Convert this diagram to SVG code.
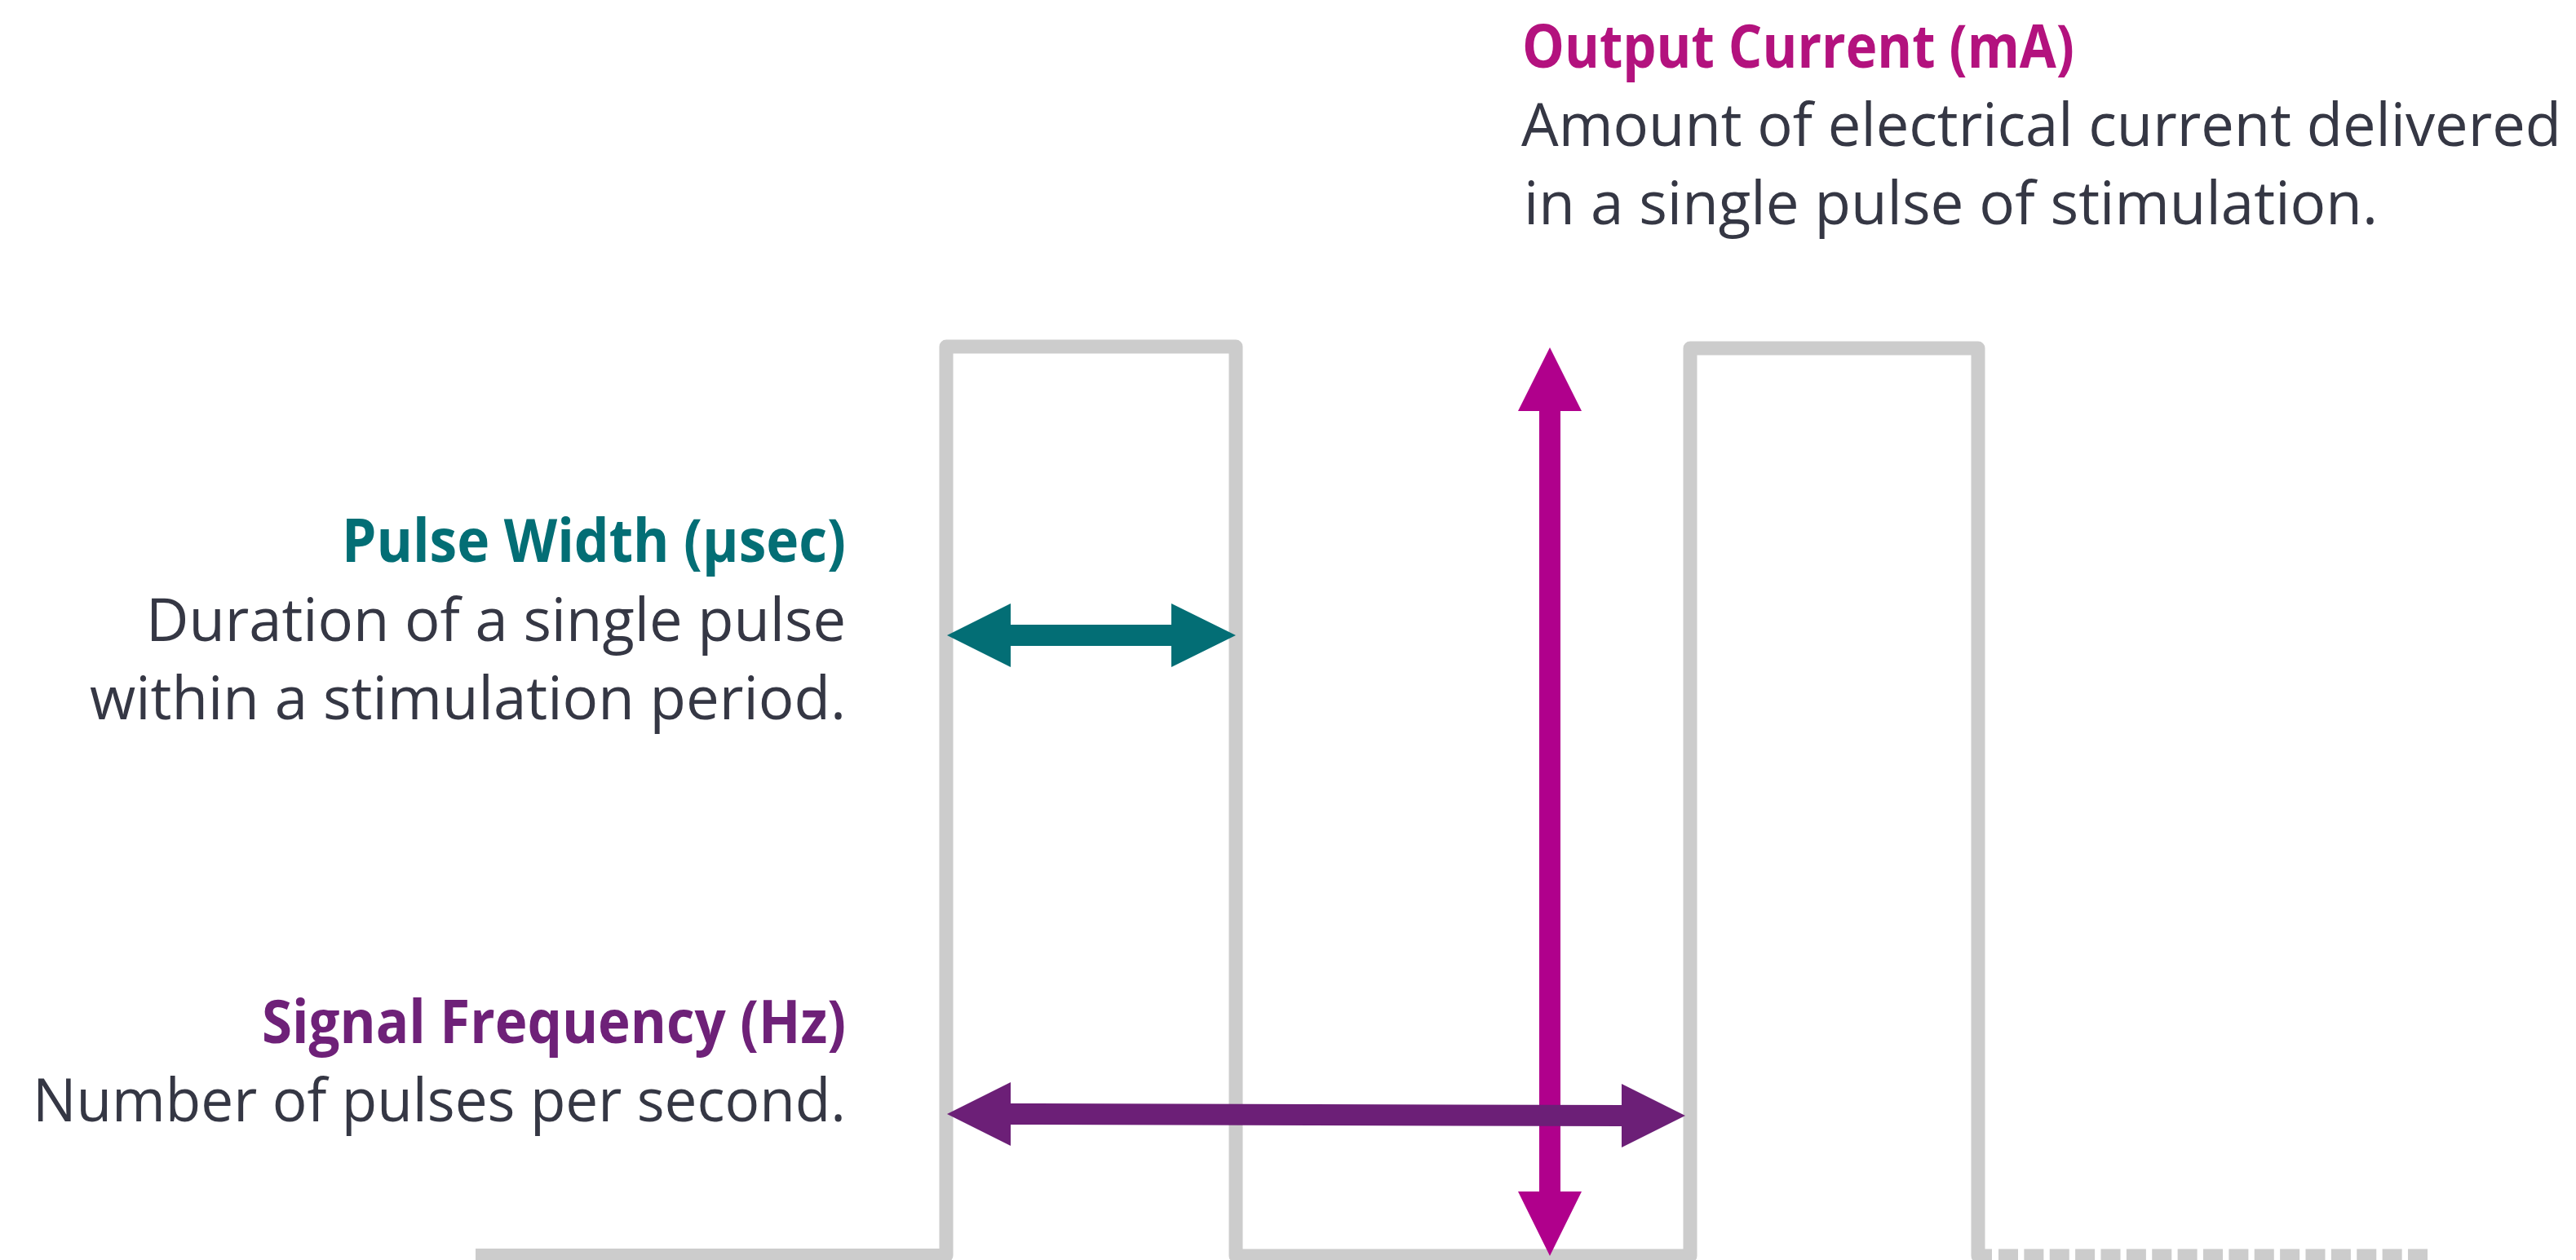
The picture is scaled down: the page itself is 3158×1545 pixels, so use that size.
<svg xmlns="http://www.w3.org/2000/svg" width="3158" height="1545" viewBox="0 0 3158 1545">
<style>
.wave{fill:none;stroke:#cccccc;stroke-width:17;stroke-linejoin:round}
.dash{fill:none;stroke:#cccccc;stroke-width:17;stroke-dasharray:24 7.375}
text{font-family:"Open Sans","Noto Sans","Liberation Sans",sans-serif;font-size:73px}
.h{font-weight:700}
.b{fill:#353744}
.teal{fill:#036e75}
.mag{fill:#b3127e}
.pur{fill:#6e2178}
.r{text-anchor:end}
</style>
<rect width="3158" height="1545" fill="#ffffff"/>
<g id="waveform">
<path class="wave" d="M583 1539.5 H1160 V425 H1515 V1540 H2072 V427 H2425 V1540 H2442"/>
<path class="dash" d="M2450 1540 H2976"/>
</g>
<g id="connectors">
<polygon id="output-current-arrow" fill="#b0008c" points="1900,426 1939,504 1913,504 1913,1461 1939,1461 1900,1540 1861,1461 1887,1461 1887,504 1861,504"/>
<polygon id="pulse-width-arrow" fill="#036e75" points="1161,779 1239,740 1239,766 1436,766 1436,740 1515,779 1436,818 1436,792 1239,792 1239,818"/>
<polygon id="frequency-arrow" fill="#6c1f77" points="1161,1366 1239,1327 1239,1353 1988,1355 1988,1329 2066,1368 1988,1407 1988,1381 1239,1379 1239,1405"/>
</g>
<g id="output-current-label">
<text class="h mag" x="1866" y="83" textLength="677" lengthAdjust="spacingAndGlyphs">Output Current (mA)</text>
<text class="b" x="1865" y="179" textLength="1275" lengthAdjust="spacingAndGlyphs">Amount of electrical current delivered</text>
<text class="b" x="1868" y="275" textLength="1047" lengthAdjust="spacingAndGlyphs">in a single pulse of stimulation.</text>
</g>
<g id="pulse-width-label">
<text class="h teal r" x="1037" y="689" textLength="618" lengthAdjust="spacingAndGlyphs">Pulse Width (µsec)</text>
<text class="b r" x="1037" y="786" textLength="858" lengthAdjust="spacingAndGlyphs">Duration of a single pulse</text>
<text class="b r" x="1037" y="882" textLength="927" lengthAdjust="spacingAndGlyphs">within a stimulation period.</text>
</g>
<g id="signal-frequency-label">
<text class="h pur r" x="1037" y="1279" textLength="716" lengthAdjust="spacingAndGlyphs">Signal Frequency (Hz)</text>
<text class="b r" x="1037" y="1375" textLength="997" lengthAdjust="spacingAndGlyphs">Number of pulses per second.</text>
</g>
</svg>
